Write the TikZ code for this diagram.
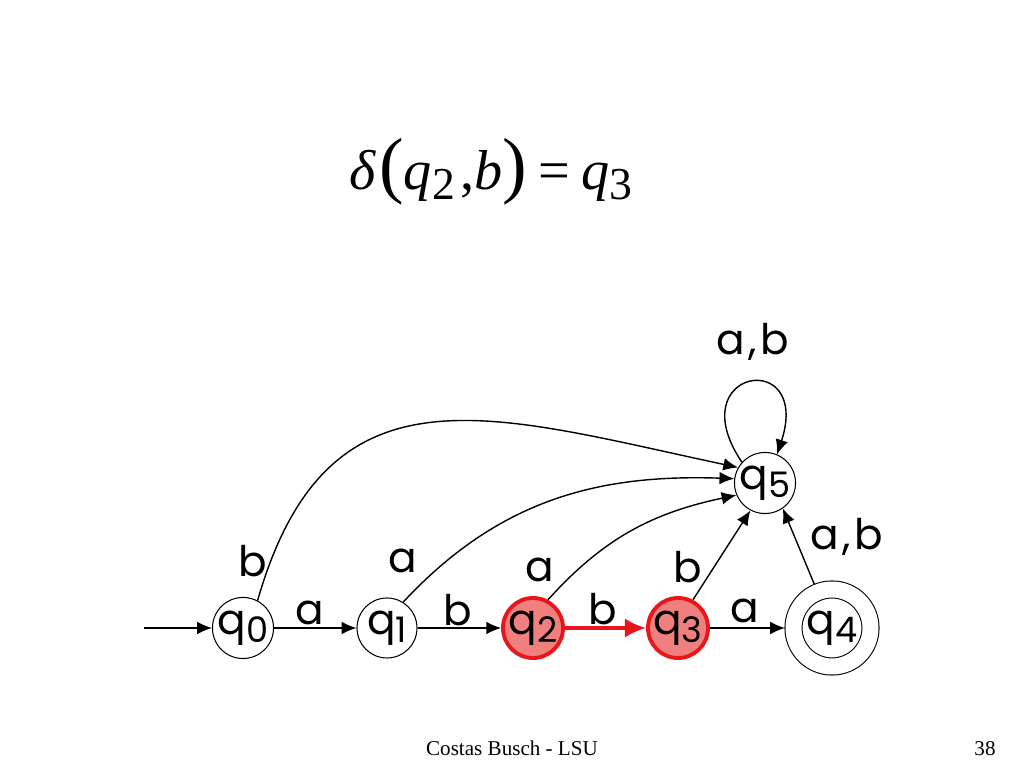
\documentclass[tikz,border=0pt]{standalone}
\usepackage{fontspec}
\setmainfont{Liberation Serif}
\newfontfamily\comicfont{Poppins}
\usepackage{tikz}
\usetikzlibrary{automata,arrows.meta,positioning}

\definecolor{hotred}{RGB}{232,22,27}
\definecolor{hotfill}{RGB}{240,128,128}
\newcommand{\qs}[1]{q\raisebox{-0.35ex}{\fontsize{10}{10}\selectfont #1}}

\begin{document}
\begin{tikzpicture}
		[
			font=\comicfont\fontsize{12}{14}\selectfont,
			align=center,
			every state/.style={draw, line width=0.3pt, minimum size=0.6cm, inner sep=0pt, fill=white},
			accepting/.style={double, double distance=0.16cm, minimum size=0.77cm, outer sep=0.085cm},
			current/.style={draw=hotred, fill=hotfill, line width=1.1pt},
			edgelabel/.style={draw=none, fill=none, anchor=base, inner sep=0pt},
			arrow/.style={-{Latex[length=4.2pt,width=3.6pt]}, line width=0.4pt},
			hotarrow/.style={-{Latex[length=6pt,width=5.5pt]}, line width=1pt, draw=hotred},
			initial text={},
			initial distance=0.68cm,
			every initial by arrow/.style={arrow}
		]
		\useasboundingbox (0,0) rectangle (10.24,7.68);

		% transition function
		\node[edgelabel, font=\fontsize{16}{18}\selectfont] (delta) at ( 4.91, 5.78 )
			{\textit{δ}\hspace{0.05em}{\fontsize{21}{21}\selectfont(}\textit{q}\raisebox{-0.35ex}{\fontsize{13}{13}\selectfont 2}\hspace{0.1em},\textit{b}{\fontsize{21}{21}\selectfont)}\hspace{0.2em}=\hspace{0.2em}\textit{q}\raisebox{-0.35ex}{\fontsize{13}{13}\selectfont 3}};

		% states
		\node[initial,state]		(q0) at ( 2.43, 1.40 ) {\qs{0}};
		\node[state]				(q1) at ( 3.87, 1.40 ) {\qs{1}};
		\node[state,current]		(q2) at ( 5.33, 1.40 ) {\qs{2}};
		\node[state,current]		(q3) at ( 6.78, 1.40 ) {\qs{3}};
		\node[state,accepting]		(q4) at ( 8.32, 1.40 ) {\qs{4}};
		\node[state]				(q5) at ( 7.65, 2.85 ) {\qs{5}};

		% transition labels
		\node[edgelabel] (q0q1) at ( 3.10, 1.43 ) {a};
		\node[edgelabel] (q1q2) at ( 4.58, 1.42 ) {b};
		\node[edgelabel] (q2q3) at ( 6.03, 1.43 ) {b};
		\node[edgelabel] (q3q4) at ( 7.45, 1.45 ) {a};

		\node[edgelabel] (q0q5) at ( 2.53, 1.91 ) {b};
		\node[edgelabel] (q1q5) at ( 4.03, 1.95 ) {a};
		\node[edgelabel] (q2q5) at ( 5.40, 1.86 ) {a};
		\node[edgelabel] (q3q5) at ( 6.88, 1.85 ) {b};
		\node[edgelabel] (q4q5) at ( 8.47, 2.18 ) {a\hspace{0.08em},\hspace{0.08em}b};
		\node[edgelabel] (q5q5) at ( 7.53, 4.13 ) {a\hspace{0.08em},\hspace{0.08em}b};

		% transition paths
		\foreach \from/\to in
		{
			q0/q1, q1/q2, q3/q4}
		\draw[arrow] (\from) -- (\to);
		\draw[hotarrow] (q2) -- (q3);
		\draw[arrow] (q3.62) -- (q5.-118);
		\draw[arrow] (q4.112) -- (q5.-55);
		\draw[arrow] (q0.62) to [out=74,in=168,looseness=1.3] (q5.150);
		\draw[arrow] (q1.58) to [out=47,in=178] (q5.172);
		\draw[arrow] (q2.62) to [out=48,in=192] (q5.203);
		\draw[arrow] (q5.138) to [out=124,in=72,looseness=8] (q5.67);

		% footer
		\node[edgelabel, font=\rmfamily\fontsize{6}{7}\selectfont] (author) at ( 5.12, 0.12 ) {Costas Busch - LSU};
		\node[edgelabel, font=\rmfamily\fontsize{6}{7}\selectfont] (page) at ( 9.85, 0.12 ) {38};

	\end{tikzpicture}
\end{document}
